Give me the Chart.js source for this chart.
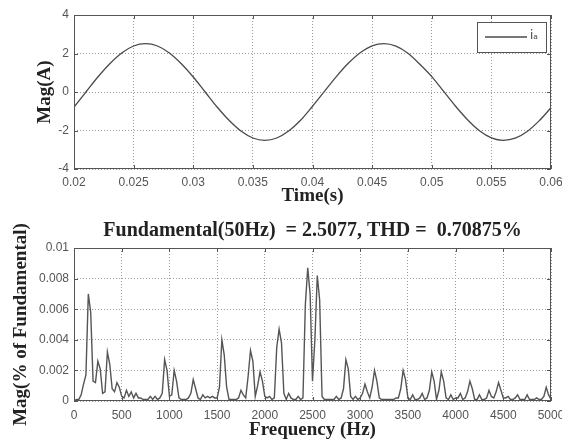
<!DOCTYPE html>
<html>
<head>
<meta charset="utf-8">
<script src="https://cdn.jsdelivr.net/npm/chart.js@4.4.1/dist/chart.umd.min.js"></script>
<style>
  html, body { margin: 0; padding: 0; background: #fff; }
  #wrap { position: relative; width: 562px; height: 444px; overflow: hidden; }
  canvas { position: absolute; left: 0; }
  #current { top: 0; }
  #spectrum { top: 215px; }
</style>
</head>
<body>
<div id="wrap">
  <canvas id="current" width="562" height="215"></canvas>
  <canvas id="spectrum" width="562" height="229"></canvas>
</div>
<script>
// ---- Phase current waveform (sampled every 1 ms from 0.02 s) ----
const timeStartS = 0.02;
const timeStepS = 0.001;
const currentA = [
  -0.78, 0.00, 0.78, 1.47, 2.03, 2.39, 2.51, 2.39, 2.03, 1.47,
   0.78, 0.00, -0.78, -1.47, -2.03, -2.39, -2.51, -2.39, -2.03, -1.47,
  -0.74, 0.03, 0.80, 1.49, 2.04, 2.40, 2.51, 2.38, 2.01, 1.44,
   0.80, 0.03, -0.74, -1.44, -2.01, -2.38, -2.51, -2.40, -2.05, -1.50,
  -0.82
];
const currentLabel = 'i\u2090';
const timeTicks = [0.02, 0.025, 0.03, 0.035, 0.04, 0.045, 0.05, 0.055, 0.06];
const timeTickLabels = ['0.02', '0.025', '0.03', '0.035', '0.04', '0.045', '0.05', '0.055', '0.06'];
const currentTicks = [-4, -2, 0, 2, 4];
const currentTickLabels = ['-4', '-2', '0', '2', '4'];

// ---- Harmonic spectrum (25 Hz bins, 0 .. 5000 Hz) ----
const spectrumBinHz = 25;
const spectrumMag = [
  // 0 - 475 Hz
  0.0000, 0.0001, 0.0001, 0.0004, 0.0011, 0.0017, 0.0070, 0.0058, 0.0013, 0.0012,
  0.0026, 0.0021, 0.0005, 0.0006, 0.0032, 0.0024, 0.0008, 0.0006, 0.0012, 0.0009,
  // 500 - 975 Hz
  0.0003, 0.0002, 0.0007, 0.0003, 0.0006, 0.0002, 0.0005, 0.0002, 0.0002, 0.0001,
  0.0001, 0.0001, 0.0003, 0.0001, 0.0003, 0.0001, 0.0002, 0.0005, 0.0027, 0.0020,
  // 1000 - 1475 Hz
  0.0003, 0.0004, 0.0020, 0.0013, 0.0002, 0.0001, 0.0001, 0.0001, 0.0002, 0.0005,
  0.0014, 0.0008, 0.0002, 0.0001, 0.0004, 0.0002, 0.0003, 0.0002, 0.0003, 0.0002,
  // 1500 - 1975 Hz
  0.0002, 0.0009, 0.0040, 0.0030, 0.0009, 0.0001, 0.0001, 0.0001, 0.0001, 0.0002,
  0.0007, 0.0004, 0.0002, 0.0016, 0.0033, 0.0026, 0.0003, 0.0010, 0.0019, 0.0013,
  // 2000 - 2475 Hz
  0.0003, 0.0002, 0.0003, 0.0001, 0.0002, 0.0035, 0.0047, 0.0038, 0.0005, 0.0001,
  0.0005, 0.0002, 0.0001, 0.0001, 0.0003, 0.0001, 0.0002, 0.0063, 0.0087, 0.0070,
  // 2500 - 2975 Hz
  0.0013, 0.0040, 0.0082, 0.0066, 0.0003, 0.0001, 0.0001, 0.0001, 0.0001, 0.0001,
  0.0003, 0.0001, 0.0002, 0.0008, 0.0027, 0.0021, 0.0003, 0.0001, 0.0003, 0.0001,
  // 3000 - 3475 Hz
  0.0002, 0.0005, 0.0011, 0.0006, 0.0002, 0.0009, 0.0020, 0.0013, 0.0002, 0.0001,
  0.0001, 0.0001, 0.0001, 0.0001, 0.0001, 0.0002, 0.0002, 0.0008, 0.0020, 0.0014,
  // 3500 - 3975 Hz
  0.0002, 0.0001, 0.0004, 0.0001, 0.0001, 0.0002, 0.0005, 0.0001, 0.0002, 0.0007,
  0.0019, 0.0013, 0.0001, 0.0007, 0.0019, 0.0013, 0.0002, 0.0001, 0.0004, 0.0001,
  // 4000 - 4475 Hz
  0.0002, 0.0002, 0.0005, 0.0001, 0.0002, 0.0006, 0.0013, 0.0008, 0.0001, 0.0001,
  0.0004, 0.0001, 0.0001, 0.0002, 0.0007, 0.0003, 0.0002, 0.0006, 0.0012, 0.0007,
  // 4500 - 4975 Hz
  0.0002, 0.0002, 0.0003, 0.0001, 0.0001, 0.0002, 0.0004, 0.0001, 0.0001, 0.0001,
  0.0004, 0.0001, 0.0001, 0.0001, 0.0002, 0.0001, 0.0001, 0.0003, 0.0009, 0.0004,
  // 5000 Hz
  0.0001
];
const freqTicks = [0, 500, 1000, 1500, 2000, 2500, 3000, 3500, 4000, 4500, 5000];
const freqTickLabels = ['0', '500', '1000', '1500', '2000', '2500', '3000', '3500', '4000', '4500', '5000'];
const magTicks = [0, 0.002, 0.004, 0.006, 0.008, 0.01];
const magTickLabels = ['0', '0.002', '0.004', '0.006', '0.008', '0.01'];
const spectrumTitle = 'Fundamental(50Hz)  = 2.5077, THD =  0.70875%';

// ---- Shared styling ----
const serifFamily = '"Liberation Serif", "Times New Roman", serif';
const serifBold = { family: serifFamily, size: 19, weight: 'bold', lineHeight: 1.2 };
const titleFont = { family: serifFamily, size: 20, weight: 'bold', lineHeight: 1.2 };
const tickFont = { family: '"Liberation Sans", Arial, sans-serif', size: 12, lineHeight: 1.2 };
const tickColor = '#555';
const titleColor = '#222';
const gridColor = '#9a9a9a';

function fixedTicks(values) {
  return scale => { scale.ticks = values.map(v => ({ value: v })); };
}
function labelFrom(values, labels) {
  return v => {
    let best = 0;
    for (let i = 1; i < values.length; i++) {
      if (Math.abs(values[i] - v) < Math.abs(values[best] - v)) best = i;
    }
    return labels[best];
  };
}
// Fixed axis thickness; edge labels may overhang the plot instead of shrinking it
function fitX(height) {
  return s => { s.height = height; s.paddingLeft = 0; s.paddingRight = 0; };
}
function fitY(width) {
  return s => { s.width = width; s.paddingTop = 0; s.paddingBottom = 0; };
}

// Box around the plotting area with small inward tick marks on every side (MATLAB style)
const framePlugin = {
  id: 'frame',
  afterDatasetsDraw(chart) {
    const { ctx, chartArea: a, scales } = chart;
    ctx.save();
    ctx.strokeStyle = '#555';
    ctx.lineWidth = 1;
    ctx.strokeRect(a.left + 0.5, a.top + 0.5, a.right - a.left - 1, a.bottom - a.top - 1);
    const len = 4;
    ctx.beginPath();
    scales.x.ticks.forEach(t => {
      const px = Math.round(scales.x.getPixelForValue(t.value)) + 0.5;
      ctx.moveTo(px, a.bottom); ctx.lineTo(px, a.bottom - len);
      ctx.moveTo(px, a.top); ctx.lineTo(px, a.top + len);
    });
    scales.y.ticks.forEach(t => {
      const py = Math.round(scales.y.getPixelForValue(t.value)) + 0.5;
      ctx.moveTo(a.left, py); ctx.lineTo(a.left + len, py);
      ctx.moveTo(a.right, py); ctx.lineTo(a.right - len, py);
    });
    ctx.stroke();
    ctx.restore();
  }
};

// Boxed legend in the upper right corner of the plotting area
const boxLegendPlugin = {
  id: 'boxLegend',
  afterDraw(chart) {
    const { ctx, chartArea: a } = chart;
    const ds = chart.data.datasets[0];
    const w = 69, h = 30;
    const x = a.right - 5 - w, y = a.top + 7;
    ctx.save();
    ctx.fillStyle = '#fff';
    ctx.fillRect(x, y, w, h);
    ctx.strokeStyle = '#555';
    ctx.lineWidth = 1;
    ctx.strokeRect(x + 0.5, y + 0.5, w, h);
    ctx.strokeStyle = ds.borderColor;
    ctx.lineWidth = ds.borderWidth;
    ctx.beginPath();
    ctx.moveTo(x + 8, y + h / 2);
    ctx.lineTo(x + 50, y + h / 2);
    ctx.stroke();
    ctx.fillStyle = '#444';
    ctx.font = '12px "DejaVu Sans", sans-serif';
    ctx.textBaseline = 'middle';
    ctx.fillText(ds.label, x + 53, y + h / 2 - 1);
    ctx.restore();
  }
};

// ---- Top: current vs time ----
new Chart(document.getElementById('current'), {
  type: 'line',
  data: {
    datasets: [{
      label: currentLabel,
      data: currentA.map((v, i) => ({ x: timeStartS + i * timeStepS, y: v })),
      borderColor: '#4a4a4a',
      borderWidth: 1.3,
      pointRadius: 0,
      cubicInterpolationMode: 'monotone',
      fill: false
    }]
  },
  options: {
    responsive: false,
    animation: false,
    devicePixelRatio: 1,
    layout: { padding: { left: 0, right: 11, top: 15, bottom: 0 } },
    plugins: { legend: { display: false }, tooltip: { enabled: false } },
    scales: {
      x: {
        type: 'linear', min: 0.02, max: 0.06,
        afterBuildTicks: fixedTicks(timeTicks),
        afterFit: fitX(46),
        grid: { color: gridColor, lineWidth: 1, drawTicks: false },
        border: { display: false, dash: [1, 2] },
        ticks: { font: tickFont, color: tickColor, padding: 6, maxRotation: 0, autoSkip: false,
                 callback: labelFrom(timeTicks, timeTickLabels) },
        title: { display: true, text: 'Time(s)', font: serifBold, color: titleColor, padding: { top: 0, bottom: 8 } }
      },
      y: {
        type: 'linear', min: -4, max: 4,
        afterBuildTicks: fixedTicks(currentTicks),
        afterFit: fitY(74),
        grid: { color: gridColor, lineWidth: 1, drawTicks: false },
        border: { display: false, dash: [1, 2] },
        ticks: { font: tickFont, color: tickColor, padding: 5, autoSkip: false,
                 callback: labelFrom(currentTicks, currentTickLabels) },
        title: { display: true, text: 'Mag(A)', font: serifBold, color: titleColor, padding: { top: 34, bottom: 0 } }
      }
    }
  },
  plugins: [framePlugin, boxLegendPlugin]
});

// ---- Bottom: harmonic spectrum ----
new Chart(document.getElementById('spectrum'), {
  type: 'line',
  data: {
    datasets: [{
      label: 'Spectrum',
      data: spectrumMag.map((m, i) => ({ x: i * spectrumBinHz, y: m })),
      borderColor: '#555',
      borderWidth: 1.4,
      pointRadius: 0,
      tension: 0,
      fill: false
    }]
  },
  options: {
    responsive: false,
    animation: false,
    devicePixelRatio: 1,
    layout: { padding: { left: 0, right: 11, top: 0, bottom: 0 } },
    plugins: {
      legend: { display: false },
      tooltip: { enabled: false },
      title: {
        display: true, text: spectrumTitle, fullSize: false,
        font: titleFont, color: titleColor, padding: { top: 4, bottom: 5 }
      }
    },
    scales: {
      x: {
        type: 'linear', min: 0, max: 5000,
        afterBuildTicks: fixedTicks(freqTicks),
        afterFit: fitX(43),
        grid: { color: gridColor, lineWidth: 1, drawTicks: false },
        border: { display: false, dash: [1, 2] },
        ticks: { font: tickFont, color: tickColor, padding: 7, maxRotation: 0, autoSkip: false,
                 callback: labelFrom(freqTicks, freqTickLabels) },
        title: { display: true, text: 'Frequency (Hz)', font: serifBold, color: titleColor, padding: { top: 0, bottom: 3 } }
      },
      y: {
        type: 'linear', min: 0, max: 0.01,
        afterBuildTicks: fixedTicks(magTicks),
        afterFit: fitY(74),
        grid: { color: gridColor, lineWidth: 1, drawTicks: false },
        border: { display: false, dash: [1, 2] },
        ticks: { font: tickFont, color: tickColor, padding: 5, autoSkip: false,
                 callback: labelFrom(magTicks, magTickLabels) },
        title: { display: true, text: 'Mag(% of Fundamental)', font: serifBold, color: titleColor, padding: { top: 10, bottom: 0 } }
      }
    }
  },
  plugins: [framePlugin]
});
</script>
</body>
</html>
